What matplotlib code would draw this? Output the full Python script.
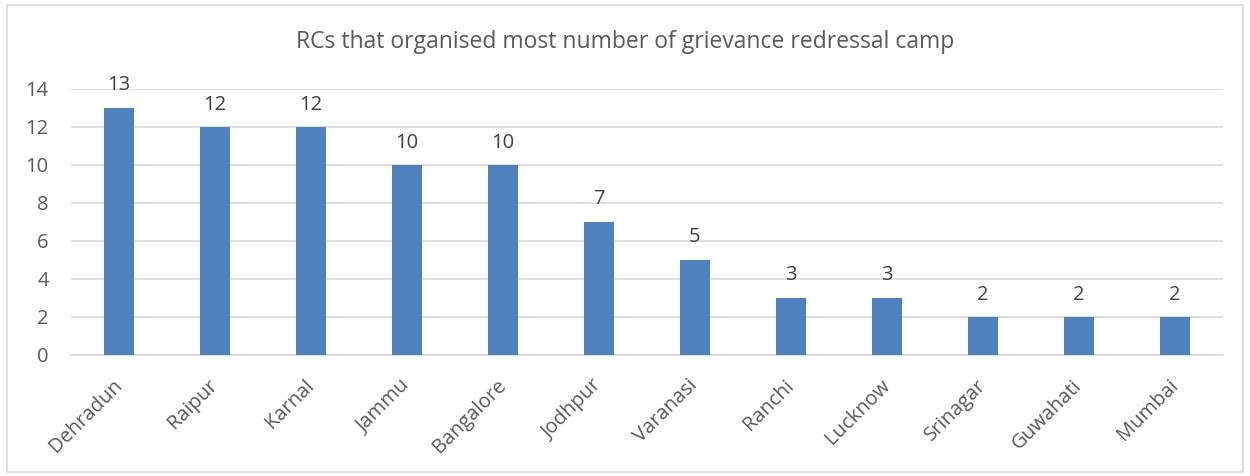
import matplotlib
matplotlib.use("Agg")
import matplotlib.pyplot as plt
from matplotlib.patches import Rectangle

categories = ["Dehradun", "Raipur", "Karnal", "Jammu", "Bangalore", "Jodhpur",
              "Varanasi", "Ranchi", "Lucknow", "Srinagar", "Guwahati", "Mumbai"]
values = [13, 12, 12, 10, 10, 7, 5, 3, 3, 2, 2, 2]
yticks = [0, 2, 4, 6, 8, 10, 12, 14]
title = "RCs that organised most number of grievance redressal camp"

plt.rcParams['font.family'] = ['Open Sans', 'DejaVu Sans']

fig = plt.figure(figsize=(12.5, 4.76), dpi=100)
fig.patches.append(Rectangle((7/1250, 4/476), 1236/1250, 467/476, transform=fig.transFigure,
                             fill=False, edgecolor='#d9d9d9', linewidth=1.2))
ax = fig.add_axes([71/1250, 1-355/476, 1152/1250, 266/476])

x = list(range(len(categories)))
bars = ax.bar(x, values, width=0.31, color='#4f81bd', zorder=3)
ax.set_xlim(-0.5, len(categories) - 0.5)
ax.set_ylim(0, 14)
ax.set_yticks(yticks)
ax.set_yticklabels([str(t) for t in yticks], fontsize=14.5, color='#595959')
ax.yaxis.grid(True, color='#d9d9d9', linewidth=1.2, zorder=0)
ax.set_axisbelow(True)
for s in ['top', 'right', 'left']:
    ax.spines[s].set_visible(False)
ax.spines['bottom'].set_color('#d9d9d9')
ax.spines['bottom'].set_linewidth(1.2)
ax.tick_params(axis='both', length=0)
ax.tick_params(axis='y', pad=16)
ax.set_xticks(x)
ax.set_xticklabels(categories, rotation=45, ha='right', va='center', rotation_mode='anchor',
                   fontsize=14.5, color='#595959')
ax.tick_params(axis='x', pad=20)

for xi, v in zip(x, values):
    ax.annotate(str(v), (xi, v), xytext=(0, 9), textcoords='offset points',
                ha='center', va='bottom', fontsize=14.5, color='#404040')

fig.text(0.5, 1-42/476, title, ha='center', va='center', fontsize=16.5, color='#595959')

fig.savefig("out.png", dpi=100)
